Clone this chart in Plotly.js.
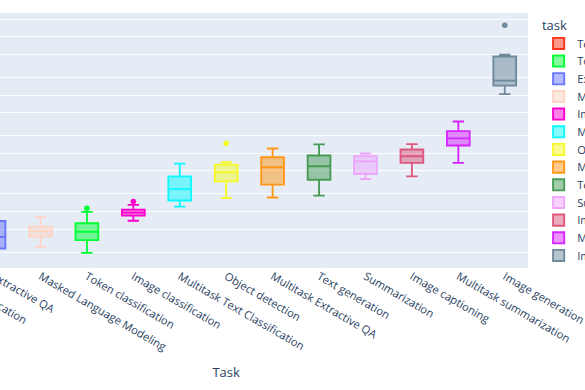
<!DOCTYPE html>
<html>
<head>
<meta charset="utf-8">
<script src="https://cdn.plot.ly/plotly-3.0.1.min.js"></script>
<style>
html, body { margin: 0; padding: 0; overflow: hidden; width: 585px; height: 390px; background: #fff; }
#chart { position: absolute; left: -149.7px; top: 0; width: 1029px; height: 420px;
         transform: scale(0.93); transform-origin: 0 0; }
</style>
</head>
<body>
<div id="chart"></div>
<script>
// Legend (trace) order
const tasks = [
  "Text classification", "Token classification", "Extractive QA",
  "Masked Language Modeling", "Image classification", "Multitask Text Classification",
  "Object detection", "Multitask Extractive QA", "Text generation", "Summarization",
  "Image captioning", "Multitask summarization", "Image generation"
];
// X-axis category order (ascending median)
const categoryOrder = [
  "Text classification", "Extractive QA", "Masked Language Modeling",
  "Token classification", "Image classification", "Multitask Text Classification",
  "Object detection", "Multitask Extractive QA", "Text generation", "Summarization",
  "Image captioning", "Multitask summarization", "Image generation"
];
const colors = ["#FD3216", "#00FE35", "#6A76FC", "#FED4C4", "#FE00CE", "#0DF9FF",
  "#F6F926", "#FF9616", "#479B55", "#EEA6FB", "#DC587D", "#D626FF", "#6E899C"];

// Energy per task (kWh per 1000 inferences)
const textClassification   = [0.0011, 0.0016, 0.0021, 0.0024, 0.0031, 0.0042];
const tokenClassification  = [0.00195, 0.0027, 0.00323, 0.0039, 0.0044, 0.0046, 0.0053, 0.00628, 0.00984, 0.0114];
const extractiveQA         = [0.0022, 0.00232, 0.0035, 0.0038, 0.00688, 0.0072];
const maskedLM             = [0.00247, 0.0037, 0.0045, 0.0047, 0.0055, 0.0080];
const imageClassification  = [0.00696, 0.0078, 0.0085, 0.0091, 0.0095, 0.0096, 0.0102, 0.0108, 0.013, 0.0148];
const multitaskTextClass   = [0.01216, 0.01545, 0.023, 0.0256, 0.0402, 0.0666];
const objectDetection      = [0.017, 0.025, 0.0329, 0.04, 0.046, 0.0482, 0.055, 0.064, 0.0701, 0.148];
const multitaskExtractQA   = [0.0174, 0.0289, 0.056, 0.059, 0.0857, 0.121];
const textGeneration       = [0.0188, 0.0352, 0.058, 0.0616, 0.0916, 0.142];
const summarization        = [0.0362, 0.0442, 0.070, 0.076, 0.0891, 0.0993];
const imageCaptioning      = [0.0402, 0.0685, 0.085, 0.093, 0.1164, 0.1436];
const multitaskSummarize   = [0.0685, 0.136, 0.17, 0.19, 0.241, 0.351];
const imageGeneration      = [1.04, 1.3, 1.45, 1.6, 1.7, 1.84, 3.2, 4.6, 4.92, 15.8];

const series = [textClassification, tokenClassification, extractiveQA, maskedLM,
  imageClassification, multitaskTextClass, objectDetection, multitaskExtractQA,
  textGeneration, summarization, imageCaptioning, multitaskSummarize, imageGeneration];

const data = tasks.map((t, i) => ({
  type: "box",
  name: t,
  legendgroup: t,
  x: series[i].map(() => t),
  y: series[i],
  marker: { color: colors[i] },
  boxpoints: "outliers"
}));

const layout = {
  width: 1029, height: 420,
  margin: { l: 80, r: 300, t: 14.3, b: 131.5 },
  paper_bgcolor: "white",
  plot_bgcolor: "#E5ECF6",
  font: { family: '"Open Sans", verdana, arial, sans-serif', size: 12, color: "#2a3f5f" },
  boxmode: "overlay",
  showlegend: true,
  legend: { title: { text: "task" }, tracegroupgap: 0 },
  xaxis: {
    type: "category",
    categoryorder: "array",
    categoryarray: categoryOrder,
    title: { text: "Task", standoff: 15 },
    tickangle: 30,
    ticklabelstandoff: -3,
    showgrid: false,
    gridcolor: "white", linecolor: "white", ticks: "",
    zerolinecolor: "white",
    automargin: true
  },
  yaxis: {
    type: "log",
    range: [-2.967, 1.409],
    title: { text: "Energy (kWh)" },
    gridcolor: "white", linecolor: "white", ticks: "",
    zerolinecolor: "white",
    automargin: false
  }
};

Plotly.newPlot("chart", data, layout, { displayModeBar: false, responsive: false });
</script>
</body>
</html>
